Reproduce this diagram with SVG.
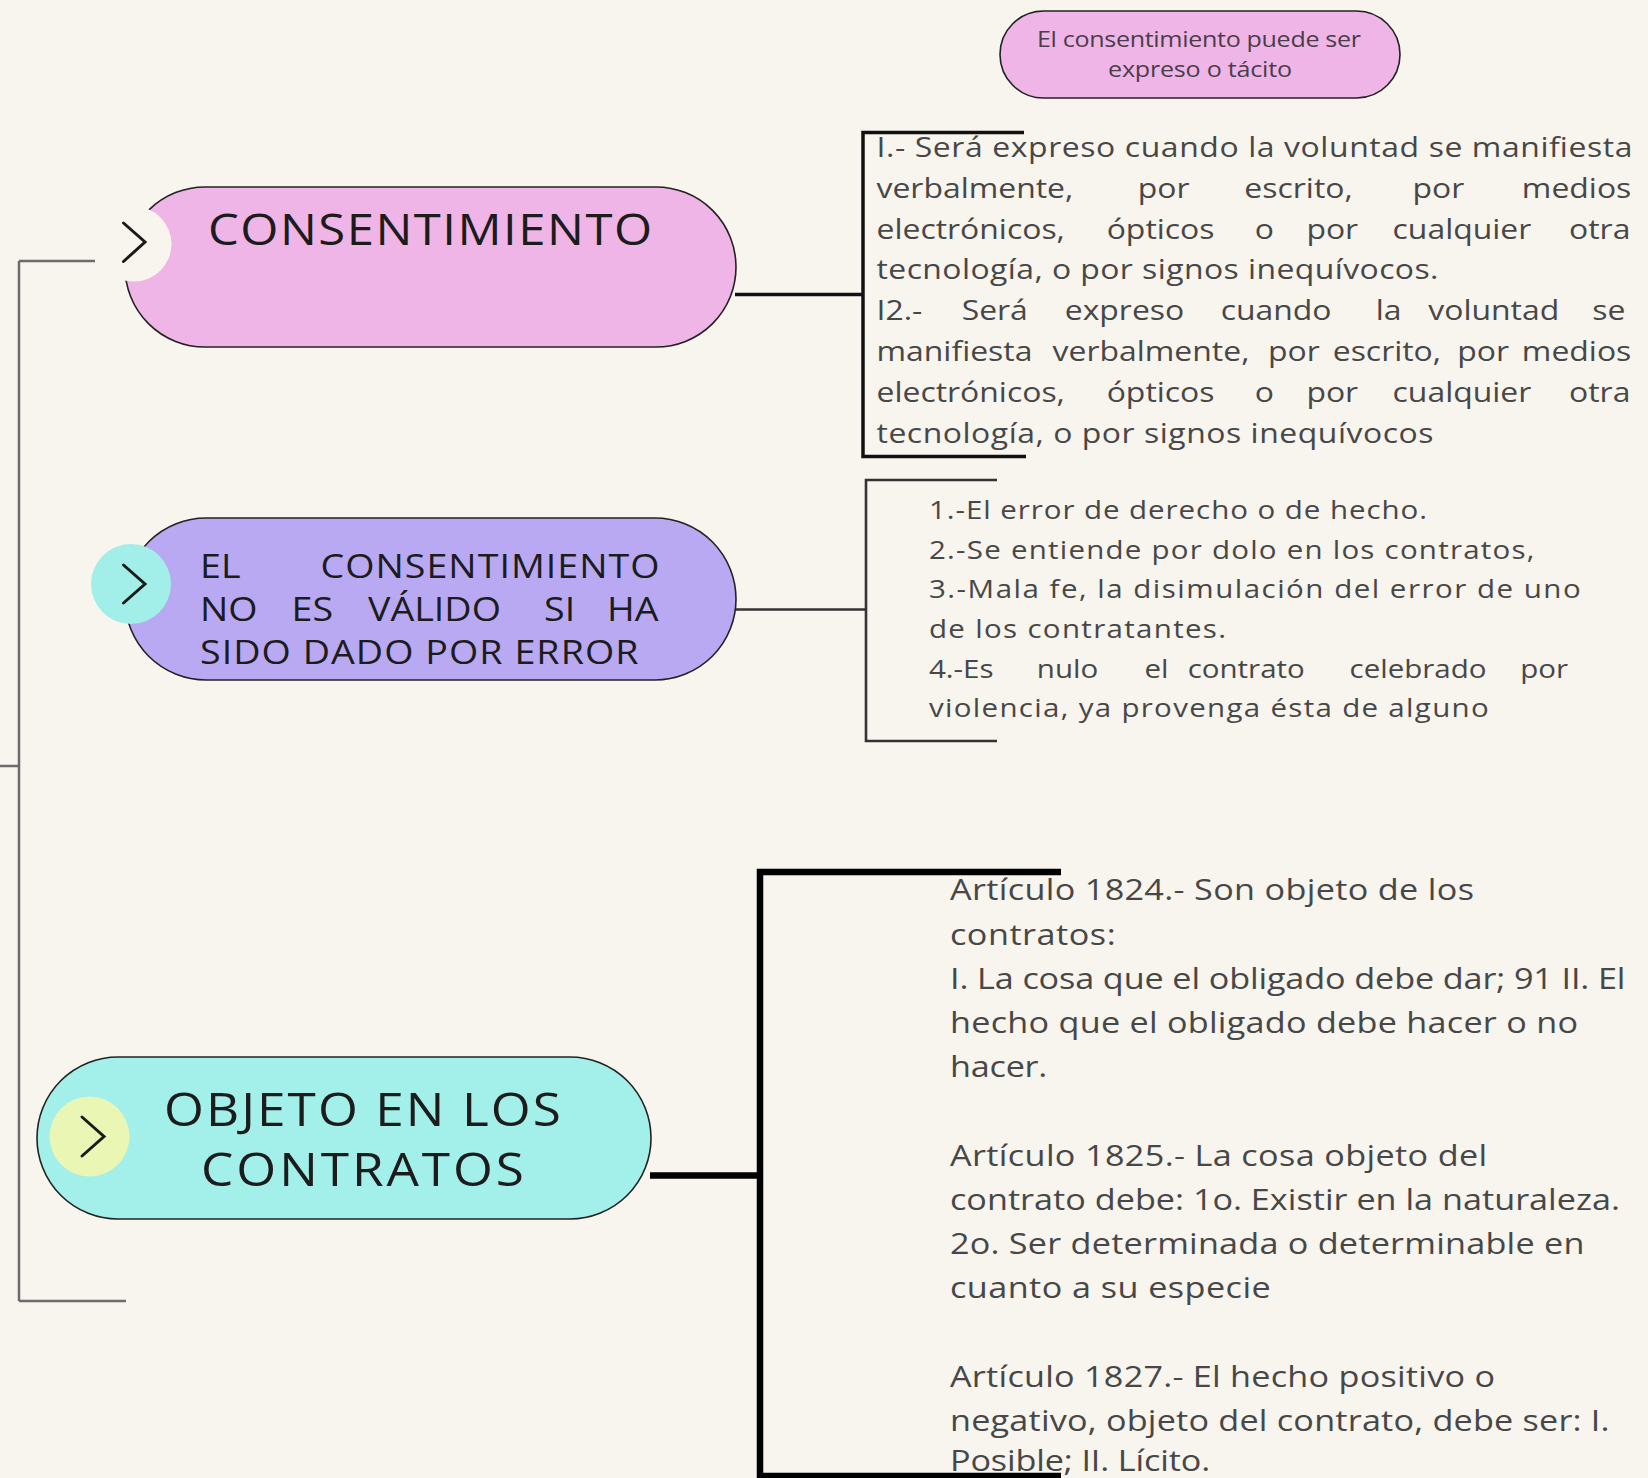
<svg xmlns="http://www.w3.org/2000/svg" width="1648" height="1478" viewBox="0 0 1648 1478">
<style>
.pill{stroke:#222;stroke-width:1.6}
.head{font-family:"Open Sans","Liberation Sans",sans-serif;fill:#1c1c1c}
.body{font-family:"Open Sans","Liberation Sans",sans-serif;fill:#474747}
.chev{fill:none;stroke:#1a1a1a;stroke-width:3;stroke-linecap:round;stroke-linejoin:miter}
.thin{fill:none;stroke:#6b6b6b;stroke-width:2.5}
.br1{fill:none;stroke:#111;stroke-width:3.5}
.br2{fill:none;stroke:#333;stroke-width:2.6}
.br3{fill:none;stroke:#000;stroke-width:6.5}
</style>
<rect x="0" y="0" width="1648" height="1478" fill="#F8F4EE"/>

<g id="connectors">
  <path class="thin" d="M0,766 H19 M19,261 V1301 M19,261 H95 M19,1301 H126"/>
  <path class="br1" d="M735,294.5 H863"/>
  <path class="br1" d="M1024,132.5 H863 V456.5 H1026"/>
  <path class="br2" d="M735,609.5 H866"/>
  <path class="br2" d="M997,480 H866 V741 H997"/>
  <path class="br3" d="M650,1175.5 H760"/>
  <path class="br3" d="M1061,872 H760 V1476 H1061"/>
</g>

<g id="node-tacito">
  <rect class="pill" x="1000" y="11" width="400" height="87" rx="43.5" fill="#EFB5E6"/>
  <text class="body" font-size="22" style="fill:#4a3d4a" transform="translate(1037,0) scale(1.14,1)"><tspan x="0" y="47" textLength="284.2" lengthAdjust="spacing">El consentimiento puede ser</tspan><tspan x="62.3" y="77" textLength="161.4" lengthAdjust="spacing">expreso o tácito</tspan></text>
</g>

<g id="node-consentimiento">
  <rect class="pill" x="125" y="187" width="611" height="160" rx="80" fill="#EFB5E6"/>
  <circle cx="134" cy="244" r="37.5" fill="#F8F4EE"/>
  <path class="chev" d="M123.5,223 L145,242 L123.5,261.5"/>
  <text class="head" x="0" y="245" font-size="43" transform="translate(208,0) scale(1.14,1)" textLength="389.5" lengthAdjust="spacing">CONSENTIMIENTO</text>
</g>

<g id="node-error">
  <rect class="pill" x="125" y="518" width="611" height="162" rx="81" fill="#B9A9F3"/>
  <circle cx="131" cy="584" r="40" fill="#A2EEE8"/>
  <path class="chev" d="M123.5,565 L145,584 L123.5,603"/>
  <text class="head" font-size="33" transform="translate(200,0) scale(1.14,1)">
    <tspan x="0" y="578">EL</tspan><tspan x="105.7" y="578" textLength="297.4" lengthAdjust="spacing">CONSENTIMIENTO</tspan>
    <tspan x="0" y="621">NO</tspan><tspan x="80.3" y="621">ES</tspan><tspan x="147.4" y="621">VÁLIDO</tspan><tspan x="301.8" y="621">SI</tspan><tspan x="357" y="621">HA</tspan>
    <tspan x="0" y="664.5" textLength="384.6" lengthAdjust="spacing">SIDO DADO POR ERROR</tspan>
  </text>
</g>

<g id="node-objeto">
  <rect class="pill" x="37" y="1057" width="614" height="162" rx="81" fill="#A2F0E9"/>
  <circle cx="89.5" cy="1136.5" r="40" fill="#E9F6B4"/>
  <path class="chev" d="M82,1117 L104,1136.5 L82,1156"/>
  <text class="head" font-size="45" transform="translate(164,0) scale(1.14,1)"><tspan x="0" y="1126" textLength="348.2" lengthAdjust="spacing">OBJETO EN LOS</tspan><tspan x="32.5" y="1186" textLength="283.3" lengthAdjust="spacing">CONTRATOS</tspan></text>
</g>

<g id="text-expreso">
  <text class="body" font-size="28" transform="translate(876.5,0) scale(1.14,1)">
    <tspan x="0" y="157" textLength="663.2" lengthAdjust="spacing">I.- Será expreso cuando la voluntad se manifiesta</tspan>
    <tspan x="0" y="197.8">verbalmente,</tspan><tspan x="229.1" y="197.8">por</tspan><tspan x="322.7" y="197.8">escrito,</tspan><tspan x="470.2" y="197.8">por</tspan><tspan x="566.1" y="197.8">medios</tspan>
    <tspan x="0" y="238.6">electrónicos,</tspan><tspan x="201.9" y="238.6">ópticos</tspan><tspan x="331.9" y="238.6">o</tspan><tspan x="377.1" y="238.6">por</tspan><tspan x="452.7" y="238.6">cualquier</tspan><tspan x="607.5" y="238.6">otra</tspan>
    <tspan x="0" y="279.4" textLength="493" lengthAdjust="spacing">tecnología, o por signos inequívocos.</tspan>
    <tspan x="0" y="320.2">I2.-</tspan><tspan x="74.7" y="320.2">Será</tspan><tspan x="165.1" y="320.2">expreso</tspan><tspan x="301.9" y="320.2">cuando</tspan><tspan x="438" y="320.2">la</tspan><tspan x="484" y="320.2">voluntad</tspan><tspan x="627.9" y="320.2">se</tspan>
    <tspan x="0" y="361">manifiesta</tspan><tspan x="154.5" y="361">verbalmente,</tspan><tspan x="343.4" y="361">por</tspan><tspan x="400.2" y="361">escrito,</tspan><tspan x="509.4" y="361">por</tspan><tspan x="566.1" y="361">medios</tspan>
    <tspan x="0" y="401.8">electrónicos,</tspan><tspan x="201.9" y="401.8">ópticos</tspan><tspan x="331.9" y="401.8">o</tspan><tspan x="377.1" y="401.8">por</tspan><tspan x="452.7" y="401.8">cualquier</tspan><tspan x="607.5" y="401.8">otra</tspan>
    <tspan x="0" y="442.6" textLength="488.6" lengthAdjust="spacing">tecnología, o por signos inequívocos</tspan>
  </text>
</g>

<g id="text-vicios">
  <text class="body" font-size="25" transform="translate(929,0) scale(1.18,1)">
    <tspan x="0" y="519" textLength="422" lengthAdjust="spacing">1.-El error de derecho o de hecho.</tspan>
    <tspan x="0" y="558.7" textLength="513.1" lengthAdjust="spacing">2.-Se entiende por dolo en los contratos,</tspan>
    <tspan x="0" y="598.4" textLength="552.3" lengthAdjust="spacing">3.-Mala fe, la disimulación del error de uno</tspan>
    <tspan x="0" y="638" textLength="251.7" lengthAdjust="spacing">de los contratantes.</tspan>
    <tspan x="0" y="677.7">4.-Es</tspan><tspan x="91.4" y="677.7">nulo</tspan><tspan x="182.6" y="677.7">el</tspan><tspan x="219.2" y="677.7">contrato</tspan><tspan x="356.4" y="677.7">celebrado</tspan><tspan x="501.1" y="677.7">por</tspan>
    <tspan x="0" y="717.4" textLength="474.3" lengthAdjust="spacing">violencia, ya provenga ésta de alguno</tspan>
  </text>
</g>

<g id="text-articulos">
  <text class="body" font-size="30" transform="translate(950,0) scale(1.14,1)">
    <tspan x="0" y="900.5" textLength="459.6" lengthAdjust="spacing">Artículo 1824.- Son objeto de los</tspan>
    <tspan x="0" y="944.7" textLength="145.3" lengthAdjust="spacing">contratos:</tspan>
    <tspan x="0" y="988.9" textLength="592.5" lengthAdjust="spacing">I. La cosa que el obligado debe dar; 91 II. El</tspan>
    <tspan x="0" y="1033.1" textLength="550.9" lengthAdjust="spacing">hecho que el obligado debe hacer o no</tspan>
    <tspan x="0" y="1077.3" textLength="85.4" lengthAdjust="spacing">hacer.</tspan>
    <tspan x="0" y="1165.7" textLength="471.2" lengthAdjust="spacing">Artículo 1825.- La cosa objeto del</tspan>
    <tspan x="0" y="1209.9" textLength="587.7" lengthAdjust="spacing">contrato debe: 1o. Existir en la naturaleza.</tspan>
    <tspan x="0" y="1254.1" textLength="556.5" lengthAdjust="spacing">2o. Ser determinada o determinable en</tspan>
    <tspan x="0" y="1298.3" textLength="281.3" lengthAdjust="spacing">cuanto a su especie</tspan>
    <tspan x="0" y="1386.7" textLength="478.1" lengthAdjust="spacing">Artículo 1827.- El hecho positivo o</tspan>
    <tspan x="0" y="1430.9" textLength="578.6" lengthAdjust="spacing">negativo, objeto del contrato, debe ser: I.</tspan>
    <tspan x="0" y="1471" textLength="228.2" lengthAdjust="spacing">Posible; II. Lícito.</tspan>
  </text>
</g>
</svg>
